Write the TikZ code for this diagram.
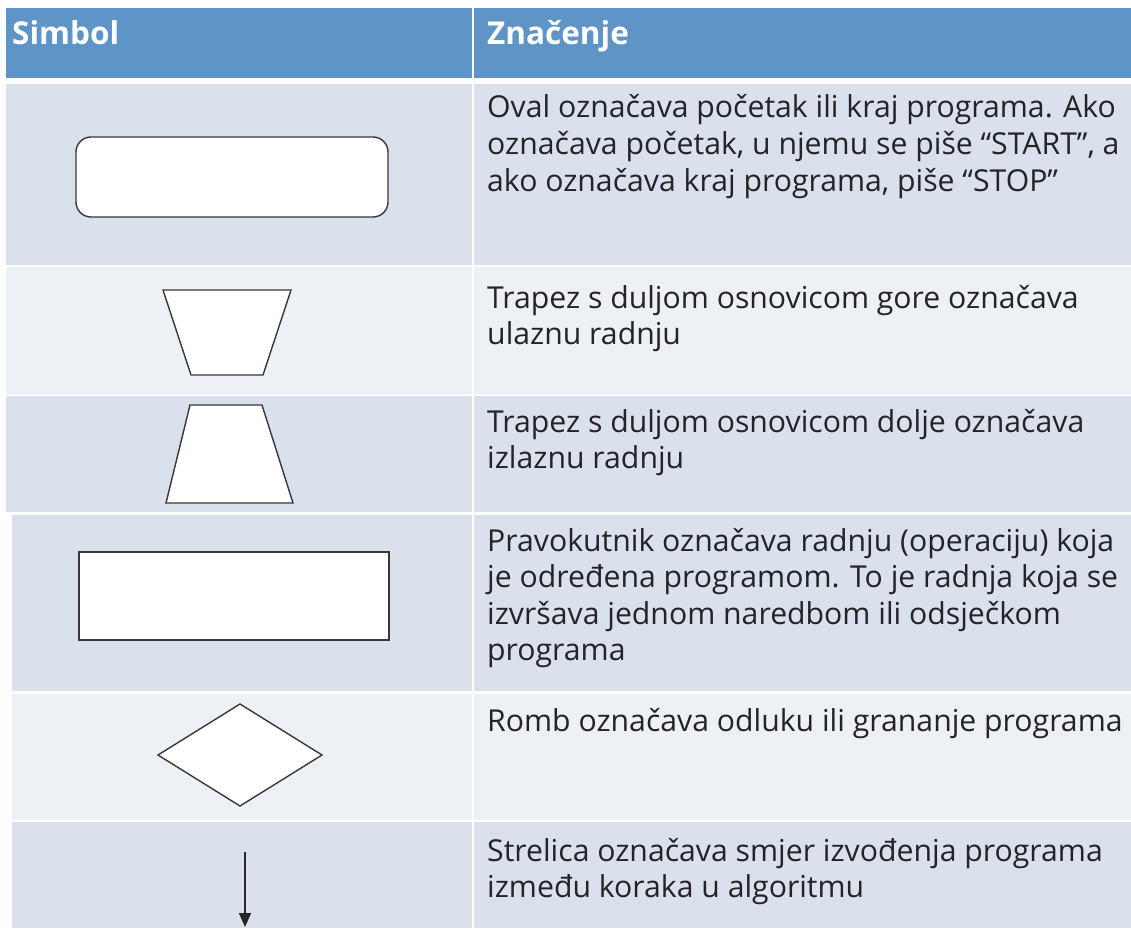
\documentclass[tikz,border=0pt]{standalone}
\usepackage{fontspec}
\setmainfont{Open Sans}
\usetikzlibrary{shapes.geometric,arrows.meta}
\definecolor{headblue}{RGB}{95,148,199}
\definecolor{rowdark}{RGB}{218,224,236}
\definecolor{rowlight}{RGB}{237,240,245}
\definecolor{outline}{RGB}{55,55,60}
\definecolor{txt}{RGB}{35,35,40}
\tikzset{
  cell/.style={fill=#1, draw=none},
  symshape/.style={draw=outline, fill=white, line width=1.4pt},
  desc/.style={anchor=base west, inner sep=0pt, align=left, text=txt,
    font=\fontsize{30.2}{36.6}\selectfont},
  headtxt/.style={anchor=base west, inner sep=0pt, text=white,
    font=\fontsize{31.5}{36}\selectfont\bfseries},
}
\begin{document}
\begin{tikzpicture}[x=1pt,y=-1pt]
\useasboundingbox (0,0) rectangle (1131,928);
\fill[white] (0,0) rectangle (1131,928);
% header
\fill[headblue] (6,8) rectangle (472,78);
\fill[headblue] (474,8) rectangle (1131,78);
% rows
\fill[rowdark]  (6,84) rectangle (472,265);   \fill[rowdark]  (474,84) rectangle (1131,265);
\fill[rowlight] (6,267) rectangle (472,394);  \fill[rowlight] (474,267) rectangle (1131,394);
\fill[rowdark]  (6,396) rectangle (472,512);  \fill[rowdark]  (474,396) rectangle (1131,512);
\fill[rowdark]  (12,515) rectangle (472,691); \fill[rowdark]  (474,515) rectangle (1131,691);
\fill[rowlight] (12,694) rectangle (472,820); \fill[rowlight] (474,694) rectangle (1131,820);
\fill[rowdark]  (12,822) rectangle (472,928); \fill[rowdark]  (474,822) rectangle (1131,928);

% header text
\node[headtxt] (h1) at (12,45) {Simbol};
\node[headtxt] (h2) at (487,45) {Značenje};

% symbols
\draw[symshape, rounded corners=15pt] (76,137) rectangle (388,217);
\node[inner sep=0pt] (oval) at (232,177) {};
\draw[symshape] (163,290) -- (291,290) -- (263,375) -- (191,375) -- cycle;
\node[inner sep=0pt] (trapin) at (227,332) {};
\draw[symshape] (190,405) -- (262,405) -- (293,503) -- (166,503) -- cycle;
\node[inner sep=0pt] (trapout) at (229,454) {};
\draw[symshape] (79,552) rectangle (389,640);
\node[inner sep=0pt] (rect) at (234,596) {};
\draw[symshape] (158,755) -- (240,704) -- (322,755) -- (240,806) -- cycle;
\node[inner sep=0pt] (romb) at (240,755) {};
\coordinate (arrA) at (245,852);
\coordinate (arrB) at (245,927);
\draw[line width=1.5pt, draw=black!85, -{Triangle[length=14pt,width=12pt]}] (arrA) -- (arrB);

% descriptions (base anchor = baseline of last line)
\node[desc] (t1) at (487,191.2) {Oval označava početak ili kraj programa. Ako\\označava početak, u njemu se piše “START”, a\\ako označava kraj programa, piše “STOP”};
\node[desc] (t2) at (487,344.6) {Trapez s duljom osnovicom gore označava\\ulaznu radnju};
\node[desc] (t3) at (487,468.6) {Trapez s duljom osnovicom dolje označava\\izlaznu radnju};
\node[desc] (t4) at (487,660.8) {Pravokutnik označava radnju (operaciju) koja\\je određena programom. To je radnja koja se\\izvršava jednom naredbom ili odsječkom\\programa};
\node[desc] (t5) at (487,731) {Romb označava odluku ili grananje programa};
\node[desc] (t6) at (487,897.6) {Strelica označava smjer izvođenja programa\\između koraka u algoritmu};
\end{tikzpicture}
\end{document}
